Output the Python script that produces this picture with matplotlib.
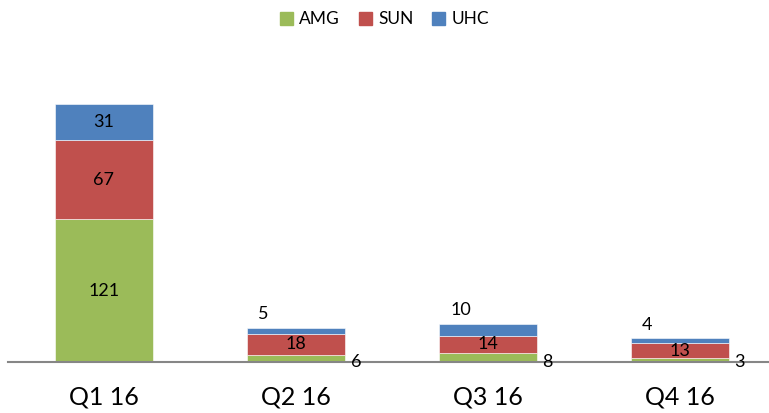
import numpy as np
import matplotlib
matplotlib.use("Agg")
import matplotlib.pyplot as plt
from matplotlib.patches import Patch

plt.rcParams['font.family'] = ['Lato', 'DejaVu Sans']

quarters = ["Q1 16", "Q2 16", "Q3 16", "Q4 16"]
amg = [121, 6, 8, 3]
sun = [67, 18, 14, 13]
uhc = [31, 5, 10, 4]

series = [("AMG", amg, "#9BBB59"), ("SUN", sun, "#C0504D"), ("UHC", uhc, "#4F81BD")]

fig = plt.figure(figsize=(7.69, 4.13), dpi=100)
ax = fig.add_axes([8 / 769, 51 / 413, 768 / 769, 322 / 413])

x = np.arange(len(quarters))
width = 0.51
bottom = np.zeros(len(quarters))
for name, vals, col in series:
    ax.bar(x, vals, width, bottom=bottom, color=col, label=name,
           edgecolor="white", linewidth=0.4)
    bottom += np.array(vals)

ax.set_xlim(-0.5, 3.5)
ax.set_ylim(0, 273)

# data labels: small segments get their label outside the bar
bottom = np.zeros(len(quarters))
for name, vals, col in series:
    for i, v in enumerate(vals):
        mid = bottom[i] + v / 2
        if v >= 12:
            ax.text(x[i], mid, str(v), ha="center", va="center", fontsize=13)
        elif name == "AMG":
            ax.annotate(str(v), (x[i] + width / 2, 0), xytext=(4, 0),
                        textcoords="offset points", ha="left", va="center",
                        fontsize=13)
        else:
            ax.annotate(str(v), (x[i] - width / 2, bottom[i] + v),
                        xytext=(8, 10), textcoords="offset points",
                        ha="left", va="center", fontsize=13)
    bottom += np.array(vals)

for s in ["top", "right", "left"]:
    ax.spines[s].set_visible(False)
ax.spines["bottom"].set_color("#868686")
ax.spines["bottom"].set_linewidth(1.5)
ax.set_yticks([])
ax.set_xticks(x)
ax.set_xticklabels(quarters, fontsize=18)
ax.tick_params(axis="x", length=0, pad=17)

handles = [Patch(color=c, label=n) for n, _, c in series]
fig.legend(handles=handles, loc="upper center", bbox_to_anchor=(0.5, 1.01),
           ncol=3, frameon=False, fontsize=12.5, handlelength=0.75,
           handleheight=0.75, handletextpad=0.35, columnspacing=1.1)

plt.savefig("out.png")
